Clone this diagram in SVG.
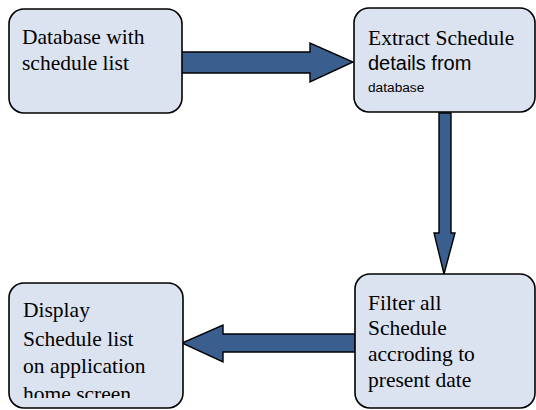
<svg xmlns="http://www.w3.org/2000/svg" width="536" height="410" viewBox="0 0 536 410">
  <style>
    .box { fill: #dce3f0; stroke: #000; stroke-width: 1.6; }
    .arrow { fill: #3a5f8f; stroke: #000; stroke-width: 1.4; stroke-linejoin: miter; }
    .serif { font-family: "Liberation Serif", "Times New Roman", serif; font-size: 21.5px; fill: #000; }
    .sans { font-family: "Liberation Sans", Arial, sans-serif; fill: #000; }
  </style>
  <defs>
    <clipPath id="clip-display">
      <rect x="9" y="283" width="174" height="115"/>
    </clipPath>
  </defs>

  <g id="connectors">
    <!-- database -> extract -->
    <polygon class="arrow" points="181,52 310,52 310,43 353,62 310,82 310,73 181,73"/>
    <!-- extract -> filter -->
    <polygon class="arrow" points="439,113 451,113 451,233 455,233 444,274 434,233 439,233"/>
    <!-- filter -> display -->
    <polygon class="arrow" points="355,334 223,334 223,325 182,343 223,362 223,352 355,352"/>
  </g>

  <g id="node-database">
    <rect class="box" x="9" y="9" width="173" height="104" rx="15" ry="15"/>
    <text class="serif" x="22" y="44">Database with</text>
    <text class="serif" x="22" y="70">schedule list</text>
  </g>

  <g id="node-extract">
    <rect class="box" x="354" y="8" width="181" height="104" rx="15" ry="15"/>
    <text class="serif" x="368" y="45">Extract Schedule</text>
    <text class="sans" x="368" y="70" font-size="20">details from</text>
    <text class="sans" x="368" y="92" font-size="13.7">database</text>
  </g>

  <g id="node-filter">
    <rect class="box" x="355" y="274" width="180" height="134" rx="15" ry="15"/>
    <text class="serif" x="368" y="310">Filter all</text>
    <text class="serif" x="368" y="335">Schedule</text>
    <text class="serif" x="368" y="361">accroding to</text>
    <text class="serif" x="368" y="387">present date</text>
  </g>

  <g id="node-display">
    <rect class="box" x="9" y="283" width="174" height="125" rx="15" ry="15"/>
    <g clip-path="url(#clip-display)">
      <text class="serif" x="23" y="317">Display</text>
      <text class="serif" x="23" y="346">Schedule list</text>
      <text class="serif" x="23" y="373">on application</text>
      <text class="serif" x="23" y="401">home screen</text>
    </g>
  </g>
</svg>
